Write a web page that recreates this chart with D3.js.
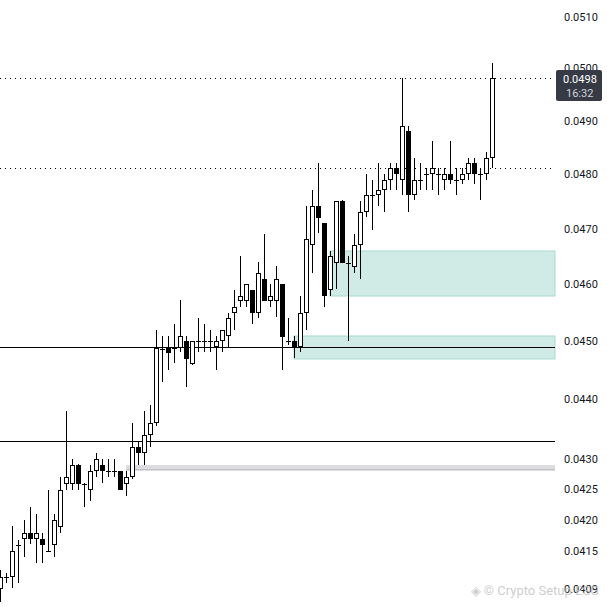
<!DOCTYPE html>
<html>
<head>
<meta charset="utf-8">
<script src="https://cdn.jsdelivr.net/npm/d3@7"></script>
<style>
html, body { margin: 0; padding: 0; background: #fff; }
svg { display: block; font-family: Roboto, "Liberation Sans", sans-serif; }
</style>
</head>
<body>
<svg id="chart" width="607" height="607"></svg>
<script>
// candle values (one entry per bar, oldest first)
const opens = [0.04090, 0.04109, 0.04109, 0.04160, 0.04170, 0.04179, 0.04170, 0.04170, 0.04151, 0.04160,
	0.04189, 0.04259, 0.04259, 0.04290, 0.04259, 0.04250, 0.04280, 0.04290, 0.04280, 0.04280,
	0.04280, 0.04259, 0.04270, 0.04320, 0.04310, 0.04340, 0.04360, 0.04487, 0.04489, 0.04489,
	0.04489, 0.04500, 0.04461, 0.04500, 0.04500, 0.04500, 0.04490, 0.04500, 0.04510, 0.04549,
	0.04570, 0.04570, 0.04590, 0.04549, 0.04610, 0.04570, 0.04570, 0.04600, 0.04500, 0.04500,
	0.04491, 0.04549, 0.04670, 0.04742, 0.04711, 0.04590, 0.04639, 0.04751, 0.04639, 0.04631,
	0.04670, 0.04731, 0.04761, 0.04761, 0.04771, 0.04790, 0.04811, 0.04790, 0.04881, 0.04761,
	0.04790, 0.04800, 0.04800, 0.04800, 0.04790, 0.04800, 0.04790, 0.04790, 0.04800, 0.04820,
	0.04800, 0.04800, 0.04830];
const highs = [0.04120, 0.04116, 0.04190, 0.04168, 0.04200, 0.04221, 0.04210, 0.04180, 0.04250, 0.04210,
	0.04271, 0.04381, 0.04300, 0.04292, 0.04260, 0.04290, 0.04310, 0.04300, 0.04300, 0.04300,
	0.04281, 0.04280, 0.04360, 0.04330, 0.04381, 0.04391, 0.04520, 0.04510, 0.04510, 0.04531,
	0.04572, 0.04510, 0.04500, 0.04541, 0.04531, 0.04520, 0.04510, 0.04520, 0.04550, 0.04590,
	0.04651, 0.04600, 0.04590, 0.04640, 0.04691, 0.04600, 0.04632, 0.04601, 0.04541, 0.04510,
	0.04580, 0.04742, 0.04771, 0.04820, 0.04711, 0.04660, 0.04751, 0.04752, 0.04651, 0.04690,
	0.04751, 0.04800, 0.04790, 0.04820, 0.04800, 0.04820, 0.04820, 0.04981, 0.04890, 0.04830,
	0.04820, 0.04811, 0.04861, 0.04811, 0.04811, 0.04861, 0.04811, 0.04811, 0.04830, 0.04830,
	0.04811, 0.04841, 0.05010];
const lows = [0.04070, 0.04100, 0.04092, 0.04100, 0.04141, 0.04162, 0.04132, 0.04132, 0.04150, 0.04141,
	0.04180, 0.04250, 0.04250, 0.04250, 0.04221, 0.04231, 0.04270, 0.04261, 0.04270, 0.04270,
	0.04250, 0.04240, 0.04268, 0.04290, 0.04290, 0.04320, 0.04355, 0.04430, 0.04451, 0.04463,
	0.04481, 0.04421, 0.04460, 0.04482, 0.04482, 0.04482, 0.04451, 0.04482, 0.04491, 0.04520,
	0.04560, 0.04560, 0.04531, 0.04541, 0.04570, 0.04560, 0.04542, 0.04451, 0.04494, 0.04471,
	0.04481, 0.04520, 0.04621, 0.04692, 0.04561, 0.04580, 0.04592, 0.04639, 0.04501, 0.04621,
	0.04610, 0.04722, 0.04698, 0.04742, 0.04731, 0.04771, 0.04771, 0.04762, 0.04731, 0.04753,
	0.04771, 0.04771, 0.04771, 0.04762, 0.04771, 0.04782, 0.04762, 0.04782, 0.04790, 0.04782,
	0.04753, 0.04790, 0.04811];
const closes = [0.04109, 0.04109, 0.04151, 0.04160, 0.04179, 0.04170, 0.04179, 0.04160, 0.04151, 0.04200,
	0.04250, 0.04270, 0.04290, 0.04259, 0.04259, 0.04280, 0.04300, 0.04280, 0.04280, 0.04280,
	0.04250, 0.04270, 0.04320, 0.04310, 0.04340, 0.04360, 0.04489, 0.04487, 0.04480, 0.04489,
	0.04510, 0.04469, 0.04500, 0.04500, 0.04500, 0.04500, 0.04500, 0.04520, 0.04541, 0.04560,
	0.04579, 0.04600, 0.04549, 0.04620, 0.04570, 0.04579, 0.04609, 0.04508, 0.04500, 0.04491,
	0.04549, 0.04681, 0.04742, 0.04720, 0.04579, 0.04651, 0.04751, 0.04639, 0.04639, 0.04670,
	0.04731, 0.04761, 0.04761, 0.04771, 0.04790, 0.04811, 0.04800, 0.04890, 0.04761, 0.04790,
	0.04790, 0.04800, 0.04811, 0.04800, 0.04800, 0.04790, 0.04790, 0.04800, 0.04820, 0.04800,
	0.04800, 0.04830, 0.04981];

// price axis labels
const tickValues = [0.0510, 0.0500, 0.0490, 0.0480, 0.0470, 0.0460, 0.0450, 0.0440, 0.0430, 0.0425, 0.0420, 0.0415, 0.0409];

// last price tag
const lastPrice = 0.04981;
const lastTime = "16:32";

// drawn levels
const solidLevels = [0.04490, 0.04330];
const dottedLevels = [0.04981, 0.04811];
const zoneStarts = [55, 49];
const zoneTops = [0.04660, 0.04510];
const zoneBottoms = [0.04579, 0.04470];
const bandStart = 21;
const bandRange = [0.04291, 0.04281];
const bandMid = 0.04284;

const svg = d3.select("#chart");
const plotRight = 555;

const x = d3.scaleLinear().domain([0, 82]).range([0, 492]);
const y = d3.scaleLog().domain([0.0409, 0.0510]).range([589, 17]);

const candles = opens.map((o, i) => ({ i, o, h: highs[i], l: lows[i], c: closes[i] }));

// zones under everything
const zones = svg.append("g");
zones.selectAll("rect")
	.data(zoneStarts.map((s, k) => ({ s, top: zoneTops[k], bottom: zoneBottoms[k] })))
	.join("rect")
	.attr("x", (d) => x(d.s))
	.attr("y", (d) => Math.round(y(d.top)))
	.attr("width", (d) => plotRight - x(d.s))
	.attr("height", (d) => Math.round(y(d.bottom)) - Math.round(y(d.top)))
	.attr("fill", "#d0ebe5")
	.attr("stroke", "#a9dacf")
	.attr("stroke-width", 1);

// grey band
svg.append("rect")
	.attr("x", x(bandStart))
	.attr("y", Math.round(y(bandRange[0])))
	.attr("width", plotRight - x(bandStart))
	.attr("height", Math.round(y(bandRange[1])) - Math.round(y(bandRange[0])))
	.attr("fill", "#dcdce1");
svg.append("line")
	.attr("x1", x(bandStart)).attr("x2", plotRight)
	.attr("y1", Math.round(y(bandMid)) + 0.5).attr("y2", Math.round(y(bandMid)) + 0.5)
	.attr("stroke", "#c3c1cb")
	.attr("stroke-width", 1);

// horizontal levels
svg.append("g").selectAll("line")
	.data(solidLevels)
	.join("line")
	.attr("x1", 0).attr("x2", plotRight)
	.attr("y1", (d) => Math.round(y(d)) + 0.5)
	.attr("y2", (d) => Math.round(y(d)) + 0.5)
	.attr("stroke", "#000")
	.attr("stroke-width", 1);

svg.append("g").selectAll("line")
	.data(dottedLevels)
	.join("line")
	.attr("x1", 0).attr("x2", plotRight)
	.attr("y1", (d) => Math.round(y(d)) + 0.5)
	.attr("y2", (d) => Math.round(y(d)) + 0.5)
	.attr("stroke", "#000")
	.attr("stroke-width", 1)
	.attr("stroke-dasharray", "1,4");

// candles
const g = svg.append("g");
g.selectAll(".wick")
	.data(candles)
	.join("line")
	.attr("class", "wick")
	.attr("x1", (d) => Math.round(x(d.i)) + 0.5)
	.attr("x2", (d) => Math.round(x(d.i)) + 0.5)
	.attr("y1", (d) => Math.round(y(d.h)))
	.attr("y2", (d) => Math.round(y(d.l)))
	.attr("stroke", "#000")
	.attr("stroke-width", 1);

const isDoji = (d) => Math.abs(y(d.o) - y(d.c)) < 1;

g.selectAll(".body")
	.data(candles.filter((d) => !isDoji(d)))
	.join("rect")
	.attr("class", "body")
	.attr("x", (d) => Math.round(x(d.i)) - 1.5)
	.attr("y", (d) => Math.round(y(Math.max(d.o, d.c))) + 0.5)
	.attr("width", 4)
	.attr("height", (d) => Math.max(1, Math.round(y(Math.min(d.o, d.c))) - Math.round(y(Math.max(d.o, d.c))) - 1))
	.attr("fill", (d) => (d.c >= d.o ? "#fff" : "#000"))
	.attr("stroke", "#000")
	.attr("stroke-width", 1);

g.selectAll(".doji")
	.data(candles.filter(isDoji))
	.join("line")
	.attr("class", "doji")
	.attr("x1", (d) => Math.round(x(d.i)) - 2)
	.attr("x2", (d) => Math.round(x(d.i)) + 3)
	.attr("y1", (d) => Math.round(y(d.c)) + 0.5)
	.attr("y2", (d) => Math.round(y(d.c)) + 0.5)
	.attr("stroke", "#000")
	.attr("stroke-width", 1);

// price axis
svg.append("g").selectAll("text")
	.data(tickValues)
	.join("text")
	.attr("x", 564)
	.attr("y", (d) => y(d))
	.attr("dy", "0.35em")
	.attr("font-size", 11)
	.attr("fill", "#131722")
	.text((d) => d.toFixed(4));

// last price tag
const tagY = y(lastPrice);
svg.append("rect")
	.attr("x", 556)
	.attr("y", Math.round(tagY) - 8)
	.attr("width", 46)
	.attr("height", 31)
	.attr("rx", 2)
	.attr("fill", "#363a45");
svg.append("text")
	.attr("x", 563)
	.attr("y", tagY + 0.5)
	.attr("dy", "0.35em")
	.attr("font-size", 11)
	.attr("fill", "#fff")
	.text(lastPrice.toFixed(4));
svg.append("text")
	.attr("x", 566)
	.attr("y", tagY + 15)
	.attr("dy", "0.35em")
	.attr("font-size", 11)
	.attr("fill", "#d1d4dc")
	.text(lastTime);

// watermark
svg.append("text")
	.attr("x", 599)
	.attr("y", 595)
	.attr("text-anchor", "end")
	.attr("font-size", 13)
	.attr("fill", "#c4c4c4")
	.attr("fill-opacity", 0.85)
	.text("◈ © Crypto Setup ESG");
</script>
</body>
</html>
